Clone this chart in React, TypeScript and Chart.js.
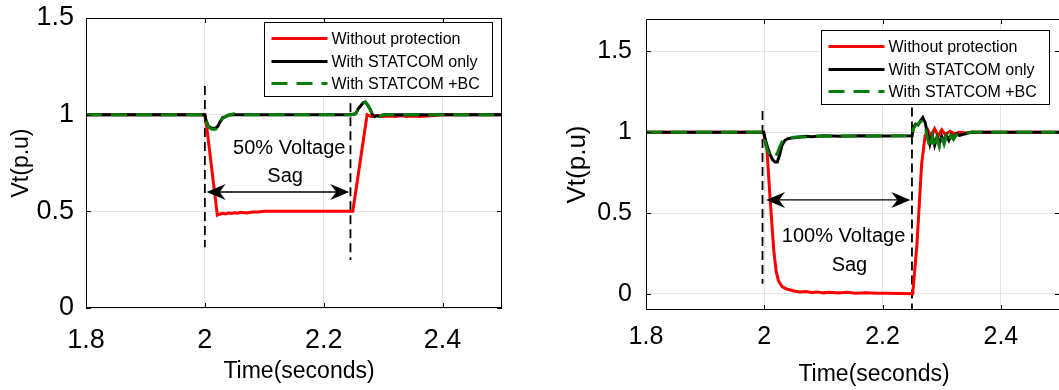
import React, { useEffect, useRef } from "react";
import { Chart, registerables } from "chart.js";
Chart.register(...registerables);

const FONT = "'Liberation Sans', Arial, Helvetica, sans-serif";

// ---------- shared ----------
const seriesLabels = ["Without protection", "With STATCOM only", "With STATCOM +BC"];
const xTicks = [1.8, 2, 2.2, 2.4];
const yTicks = [0, 0.5, 1, 1.5];

// ---------- left panel : 50% voltage sag ----------
const leftRedT = [1.8, 2.0, 2.003, 2.021, 2.025, 2.03, 2.035, 2.04, 2.045, 2.05, 2.055, 2.06, 2.07, 2.08, 2.09, 2.1, 2.12, 2.15, 2.2, 2.249, 2.273, 2.28, 2.29, 2.3, 2.31, 2.32, 2.33, 2.34, 2.35, 2.36, 2.38, 2.4, 2.45, 2.5];
const leftRedV = [1, 1, 0.94, 0.48, 0.485, 0.49, 0.486, 0.492, 0.489, 0.493, 0.49, 0.495, 0.492, 0.497, 0.496, 0.5, 0.5, 0.5, 0.5, 0.5, 1.0, 0.99, 0.995, 0.99, 0.993, 0.99, 0.995, 0.99, 0.993, 0.99, 0.995, 1, 1, 1];
const leftBlackT = [1.8, 2.0, 2.002, 2.006, 2.012, 2.018, 2.022, 2.026, 2.03, 2.035, 2.04, 2.05, 2.1, 2.2, 2.246, 2.254, 2.258, 2.262, 2.266, 2.27, 2.274, 2.278, 2.282, 2.286, 2.29, 2.294, 2.3, 2.35, 2.4, 2.5];
const leftBlackV = [1, 1, 0.97, 0.94, 0.93, 0.93, 0.94, 0.965, 0.985, 0.99, 0.998, 1, 1, 1, 1, 1.005, 1.03, 1.045, 1.06, 1.065, 1.05, 1.03, 1.0, 0.99, 0.995, 0.99, 1, 1, 1, 1];
const leftGreenT = [1.8, 2.0, 2.002, 2.006, 2.012, 2.018, 2.022, 2.026, 2.03, 2.035, 2.04, 2.048, 2.055, 2.1, 2.2, 2.246, 2.254, 2.258, 2.262, 2.266, 2.27, 2.274, 2.278, 2.282, 2.286, 2.29, 2.294, 2.3, 2.35, 2.4, 2.5];
const leftGreenV = [1, 1, 0.965, 0.935, 0.925, 0.925, 0.935, 0.96, 0.98, 0.99, 0.997, 1.005, 1, 1, 1, 1, 1.005, 1.03, 1.045, 1.062, 1.066, 1.05, 1.028, 1.0, 0.99, 0.996, 0.99, 1, 1, 1, 1];
const leftMarkerX = [2.0, 2.245];
const leftMarkerTop = [1.148, 1.059];
const leftMarkerBottom = [0.314, 0.248];
const leftArrow = { from: 2.003, to: 2.243, y: 0.6 };
const leftNotes = ["50% Voltage", "Sag"];
const leftNoteX = [2.142, 2.135];
const leftNoteY = [0.826, 0.679];

// ---------- right panel : 100% voltage sag ----------
const rightRedT = [1.8, 1.999, 2.001, 2.0045, 2.01, 2.016, 2.02, 2.024, 2.03, 2.038, 2.05, 2.06, 2.07, 2.08, 2.09, 2.1, 2.11, 2.125, 2.14, 2.155, 2.17, 2.19, 2.21, 2.23, 2.251, 2.258, 2.266, 2.272, 2.277, 2.282, 2.288, 2.294, 2.3, 2.306, 2.314, 2.322, 2.33, 2.34, 2.35, 2.4, 2.45, 2.5];
const rightRedV = [1, 1, 0.95, 0.89, 0.58, 0.27, 0.14, 0.08, 0.045, 0.03, 0.018, 0.012, 0.015, 0.008, 0.012, 0.006, 0.01, 0.005, 0.009, 0.004, 0.007, 0.003, 0.004, 0.002, 0.0, 0.3, 0.8, 0.98, 1.01, 0.97, 1.02, 0.975, 1.015, 0.985, 1.005, 0.99, 1.0, 0.995, 1.0, 1, 1, 1];
const rightBlackT = [1.8, 1.999, 2.002, 2.006, 2.01, 2.014, 2.018, 2.022, 2.026, 2.03, 2.035, 2.04, 2.05, 2.06, 2.07, 2.08, 2.1, 2.13, 2.16, 2.2, 2.25, 2.252, 2.256, 2.26, 2.264, 2.268, 2.272, 2.276, 2.28, 2.284, 2.288, 2.292, 2.296, 2.3, 2.304, 2.308, 2.312, 2.316, 2.32, 2.325, 2.33, 2.34, 2.35, 2.4, 2.5];
const rightBlackV = [1, 1, 0.95, 0.9, 0.86, 0.83, 0.815, 0.815, 0.86, 0.92, 0.95, 0.96, 0.965, 0.97, 0.975, 0.972, 0.978, 0.975, 0.978, 0.977, 0.978, 1.03, 1.05, 1.045, 1.07, 1.09, 1.06, 0.99, 0.925, 0.98, 0.92, 0.97, 0.93, 0.975, 0.94, 0.98, 0.95, 0.985, 0.96, 0.99, 0.98, 0.99, 1.0, 1, 1];
const rightGreenT = [1.8, 1.999, 2.002, 2.006, 2.01, 2.014, 2.018, 2.022, 2.026, 2.03, 2.035, 2.04, 2.05, 2.06, 2.07, 2.08, 2.1, 2.13, 2.16, 2.2, 2.25, 2.252, 2.256, 2.26, 2.264, 2.268, 2.272, 2.276, 2.28, 2.284, 2.288, 2.292, 2.296, 2.3, 2.304, 2.308, 2.312, 2.316, 2.32, 2.325, 2.33, 2.34, 2.35, 2.4, 2.5];
const rightGreenV = [1, 1, 0.93, 0.88, 0.86, 0.84, 0.845, 0.87, 0.91, 0.94, 0.955, 0.962, 0.968, 0.972, 0.97, 0.976, 0.975, 0.978, 0.974, 0.978, 0.978, 1.02, 1.045, 1.05, 1.065, 1.07, 1.04, 0.96, 0.9, 0.975, 0.9, 0.965, 0.91, 0.97, 0.925, 0.975, 0.94, 0.98, 0.955, 0.985, 0.975, 0.99, 1.0, 1, 1];
const rightMarkerX = [1.997, 2.2497];
const rightMarkerTop = [1.131, 1.153];
const rightMarkerBottom = [0.062, -0.1];
const rightArrow = { from: 2.003, to: 2.247, y: 0.581 };
const rightNotes = ["100% Voltage", "Sag"];
const rightNoteX = [2.134, 2.144];
const rightNoteY = [0.353, 0.176];

const pts = (t: number[], v: number[]) => t.map((x, i) => ({ x, y: v[i] }));

type Spec = {
  width: number; height: number; padTop: number; padRight: number;
  yWidth: number; xHeight: number; yMin: number; yMax: number;
  tickFont: number; yTickPad: number; xTickPad: number;
  yTitleFont: number; yTitlePad: number; xTitleDx: number; xTitleFromBottom: number;
  red: [number[], number[]]; black: [number[], number[]]; green: [number[], number[]];
  markerX: number[]; markerTop: number[]; markerBottom: number[];
  arrow: { from: number; to: number; y: number };
  notes: string[]; noteX: number[]; noteY: number[];
  legendTop: number; legendRight: number;
};

function buildChart(canvas: HTMLCanvasElement, s: Spec) {
  const datasets: any[] = [
    { label: seriesLabels[0], data: pts(s.red[0], s.red[1]), borderColor: "#ff0000", borderWidth: 3, order: 3 },
    { label: seriesLabels[1], data: pts(s.black[0], s.black[1]), borderColor: "#000000", borderWidth: 3, order: 2 },
    { label: seriesLabels[2], data: pts(s.green[0], s.green[1]), borderColor: "#0a7d0a", borderWidth: 3, borderDash: [16, 9], order: 1 },
  ];
  s.markerX.forEach((mx, i) => {
    datasets.push({
      label: "marker" + i,
      data: pts([mx, mx], [s.markerTop[i], s.markerBottom[i]]),
      borderColor: "#000000", borderWidth: 1.8, borderDash: [9, 5], order: 4,
    });
  });

  const deco = {
    id: "deco",
    afterDraw(chart: any) {
      const { ctx, chartArea: a, scales } = chart;
      const xs = scales.x, ys = scales.y;
      ctx.save();
      // frame
      ctx.strokeStyle = "#000"; ctx.lineWidth = 1; ctx.setLineDash([]);
      ctx.strokeRect(Math.round(a.left) + 0.5, Math.round(a.top) + 0.5, Math.round(a.width) - 1, Math.round(a.height) - 1);
      // inward ticks
      ctx.beginPath();
      xTicks.forEach((v) => {
        const p = Math.round(xs.getPixelForValue(v)) + 0.5;
        ctx.moveTo(p, a.bottom); ctx.lineTo(p, a.bottom - 5);
        ctx.moveTo(p, a.top); ctx.lineTo(p, a.top + 5);
      });
      yTicks.forEach((v) => {
        const p = Math.round(ys.getPixelForValue(v)) + 0.5;
        ctx.moveTo(a.left, p); ctx.lineTo(a.left + 5, p);
        ctx.moveTo(a.right, p); ctx.lineTo(a.right - 5, p);
      });
      ctx.stroke();
      // arrow
      const ay = ys.getPixelForValue(s.arrow.y);
      const x1 = xs.getPixelForValue(s.arrow.from), x2 = xs.getPixelForValue(s.arrow.to);
      ctx.lineWidth = 1.3;
      ctx.beginPath(); ctx.moveTo(x1 + 8, ay); ctx.lineTo(x2 - 8, ay); ctx.stroke();
      ctx.fillStyle = "#000";
      const head = (tip: number, dir: number) => {
        const L = 19, H = 8, N = 6;
        ctx.beginPath();
        ctx.moveTo(tip, ay);
        ctx.lineTo(tip - dir * L, ay - H);
        ctx.lineTo(tip - dir * (L - N), ay);
        ctx.lineTo(tip - dir * L, ay + H);
        ctx.closePath(); ctx.fill();
      };
      head(x1, -1); head(x2, 1);
      // notes
      ctx.font = `20px ${FONT}`; ctx.textAlign = "center"; ctx.textBaseline = "middle";
      s.notes.forEach((t, i) => {
        ctx.fillText(t, xs.getPixelForValue(s.noteX[i]), ys.getPixelForValue(s.noteY[i]));
      });
      // x title
      ctx.font = `23px ${FONT}`;
      ctx.fillText("Time(seconds)", (a.left + a.right) / 2 + s.xTitleDx, s.height - s.xTitleFromBottom);
      // legend
      const bw = 228, bh = 74;
      const bx = Math.round(a.right - s.legendRight - bw) + 0.5;
      const by = Math.round(a.top + s.legendTop) + 0.5;
      ctx.fillStyle = "#fff"; ctx.fillRect(bx, by, bw, bh);
      ctx.strokeStyle = "#000"; ctx.lineWidth = 1; ctx.strokeRect(bx, by, bw, bh);
      const rows = [16, 39, 61];
      ctx.font = `16px ${FONT}`; ctx.textAlign = "left"; ctx.fillStyle = "#000";
      for (let i = 0; i < 3; i++) {
        const ds = chart.data.datasets[i];
        const ry = by + rows[i];
        ctx.strokeStyle = ds.borderColor; ctx.lineWidth = 3;
        ctx.setLineDash(ds.borderDash || []);
        ctx.beginPath(); ctx.moveTo(bx + 7, ry); ctx.lineTo(bx + 63, ry); ctx.stroke();
        ctx.setLineDash([]);
        ctx.fillText(ds.label, bx + 67, ry + 1);
      }
      ctx.restore();
    },
  };

  return new Chart(canvas, {
    type: "line",
    data: { datasets },
    options: {
      animation: false,
      responsive: false,
      events: [],
      elements: { point: { radius: 0 }, line: { tension: 0 } },
      layout: { padding: { top: s.padTop, right: s.padRight, left: 0, bottom: 0 } },
      plugins: { legend: { display: false }, tooltip: { enabled: false } },
      scales: {
        x: {
          type: "linear", min: 1.8, max: 2.5,
          afterBuildTicks: (sc: any) => { sc.ticks = xTicks.map((value) => ({ value })); },
          afterFit: (sc: any) => { sc.height = s.xHeight; sc.paddingLeft = 0; sc.paddingRight = 0; },
          ticks: { font: { family: FONT, size: s.tickFont }, color: "#000", padding: s.xTickPad, maxRotation: 0, callback: (v: any) => String(+Number(v).toFixed(2)) },
          grid: { color: "#e3e3e3", drawTicks: false },
          border: { display: false },
        },
        y: {
          type: "linear", min: s.yMin, max: s.yMax,
          afterBuildTicks: (sc: any) => { sc.ticks = yTicks.map((value) => ({ value })); },
          afterFit: (sc: any) => { sc.width = s.yWidth; sc.paddingTop = 0; sc.paddingBottom = 0; },
          ticks: { font: { family: FONT, size: s.tickFont }, color: "#000", padding: s.yTickPad, callback: (v: any) => String(+Number(v).toFixed(2)) },
          grid: { color: "#e3e3e3", drawTicks: false },
          border: { display: false },
          title: { display: true, text: "Vt(p.u)", color: "#000", font: { family: FONT, size: s.yTitleFont }, padding: { top: s.yTitlePad, bottom: 0 } },
        },
      },
    } as any,
    plugins: [deco],
  });
}

const leftSpec: Spec = {
  width: 530, height: 390, padTop: 18, padRight: 28, yWidth: 86, xHeight: 82, yMin: 0, yMax: 1.5,
  tickFont: 27, yTickPad: 12, xTickPad: 16, yTitleFont: 23, yTitlePad: 8, xTitleDx: 5, xTitleFromBottom: 18,
  red: [leftRedT, leftRedV], black: [leftBlackT, leftBlackV], green: [leftGreenT, leftGreenV],
  markerX: leftMarkerX, markerTop: leftMarkerTop, markerBottom: leftMarkerBottom,
  arrow: leftArrow, notes: leftNotes, noteX: leftNoteX, noteY: leftNoteY, legendTop: 4, legendRight: 10,
};
const rightSpec: Spec = {
  width: 540, height: 390, padTop: 19, padRight: 10, yWidth: 116, xHeight: 80, yMin: -0.1, yMax: 1.7,
  tickFont: 25, yTickPad: 14, xTickPad: 12, yTitleFont: 26, yTitlePad: 32, xTitleDx: 21, xTitleFromBottom: 15,
  red: [rightRedT, rightRedV], black: [rightBlackT, rightBlackV], green: [rightGreenT, rightGreenV],
  markerX: rightMarkerX, markerTop: rightMarkerTop, markerBottom: rightMarkerBottom,
  arrow: rightArrow, notes: rightNotes, noteX: rightNoteX, noteY: rightNoteY, legendTop: 11, legendRight: 11,
};

function Panel({ spec, left }: { spec: Spec; left: number }) {
  const ref = useRef<HTMLCanvasElement>(null);
  useEffect(() => {
    const c = buildChart(ref.current!, spec);
    return () => c.destroy();
  }, [spec]);
  return (
    <div style={{ position: "absolute", left, top: 0, width: spec.width, height: spec.height }}>
      <canvas ref={ref} width={spec.width} height={spec.height} style={{ display: "block", width: spec.width, height: spec.height }} />
    </div>
  );
}

export default function App() {
  return (
    <div style={{ position: "fixed", left: 0, top: 0, width: 1059, height: 390, overflow: "hidden", background: "#fff" }}>
      <Panel spec={leftSpec} left={0} />
      <Panel spec={rightSpec} left={530} />
    </div>
  );
}
